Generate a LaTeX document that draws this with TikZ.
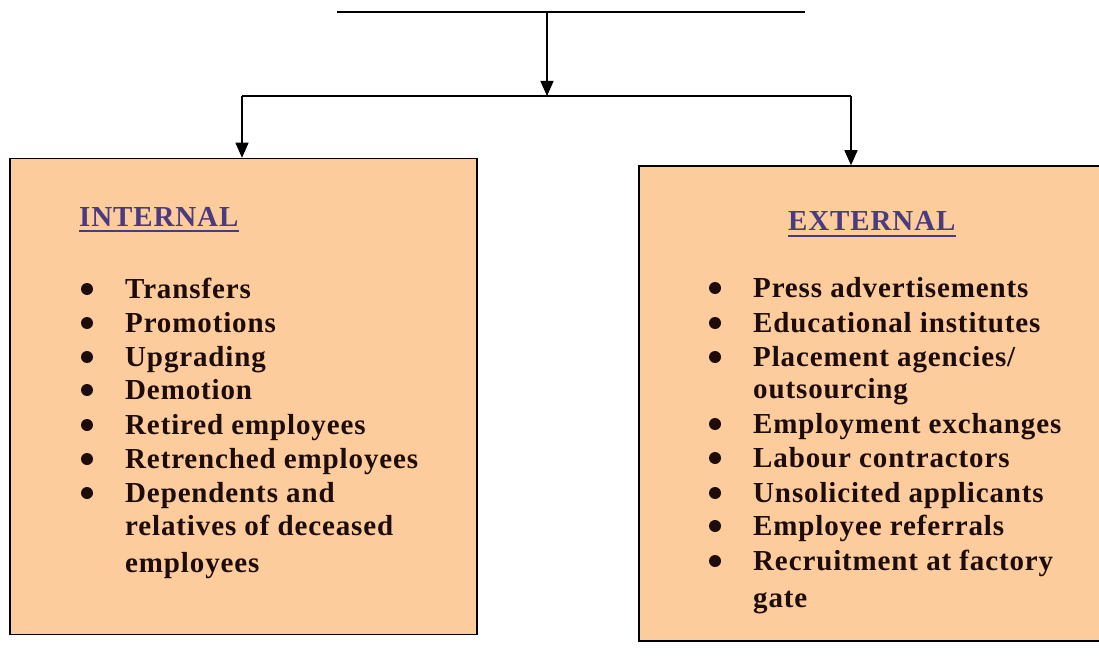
\documentclass[tikz,border=0pt]{standalone}
\usepackage{fontspec}
\setmainfont{Liberation Serif}[LetterSpace=3]
\usetikzlibrary{arrows.meta}
\definecolor{peach}{RGB}{252,204,156}
\definecolor{headcol}{RGB}{74,58,128}
\definecolor{txtcol}{RGB}{30,12,10}
\tikzset{
  conn/.style={line width=1.3pt, draw=black},
  arr/.style={conn, -{Triangle[length=15pt,width=13pt]}},
  srcbox/.style={draw=black, line width=1.5pt, fill=peach, rectangle, inner sep=0pt},
  item/.style={anchor=base west, inner sep=0pt, font=\fontsize{29}{32}\selectfont\bfseries, text=txtcol},
  head/.style={anchor=base west, inner sep=0pt, font=\fontsize{29}{32}\selectfont\bfseries, text=headcol},
  bul/.style={circle, fill=txtcol, inner sep=0pt, minimum size=12pt},
}
\begin{document}
\begin{tikzpicture}[x=1pt,y=-1pt]
\useasboundingbox (0,0) rectangle (1099,660);
% boxes
\node[srcbox, minimum width=467pt, minimum height=476pt] (lb) at (243.5,396.5) {};
\node[srcbox, minimum width=480pt, minimum height=475pt] (rb) at (879,403.5) {};
% connectors
\coordinate (tl) at (337,12);
\coordinate (tr) at (805,12);
\coordinate (tm) at (547,12);
\coordinate (jm) at (547,96);
\coordinate (jl) at (242,96);
\coordinate (jr) at (851,96);
\draw[conn] (tl) -- (tr);
\draw[arr] (tm) -- (jm);
\draw[conn] (jl) -- (jr);
\draw[arr] (jl) -- (jl |- lb.north);
\draw[arr] (jr) -- (jr |- rb.north);
% headings
\node[head] (hi) at (79,226) {INTERNAL};
\draw[headcol, line width=2.2pt] ([yshift=-5pt]hi.base west) -- ([yshift=-5pt]hi.base east);
\node[head] (he) at (788,231) {EXTERNAL};
\draw[headcol, line width=2.2pt] ([yshift=-5pt]he.base west) -- ([yshift=-5pt]he.base east);
% left items
\foreach \t/\y/\n in {Transfers/298/l1, Promotions/332/l2, Upgrading/366/l3, Demotion/399/l4, Retired employees/434/l5, Retrenched employees/468/l6, Dependents and/502/l7}{
  \node[bul] (b\n) at (87,\y-9) {};
  \node[item] (\n) at (125,\y) {\t};
}
\node[item] (l8) at (125,535) {relatives of deceased};
\node[item] (l9) at (125,572) {employees};
% right items
\foreach \t/\y/\n in {Press advertisements/297/r1, Educational institutes/332/r2, {Placement agencies/}/366/r3, Employment exchanges/433/r4, Labour contractors/467/r5, Unsolicited applicants/502/r6, Employee referrals/535/r7, Recruitment at factory/570/r8}{
  \node[bul] (b\n) at (715,\y-9) {};
  \node[item] (\n) at (753,\y) {\t};
}
\node[item] (r3b) at (753,398) {outsourcing};
\node[item] (r9) at (753,607) {gate};
\end{tikzpicture}
\end{document}
